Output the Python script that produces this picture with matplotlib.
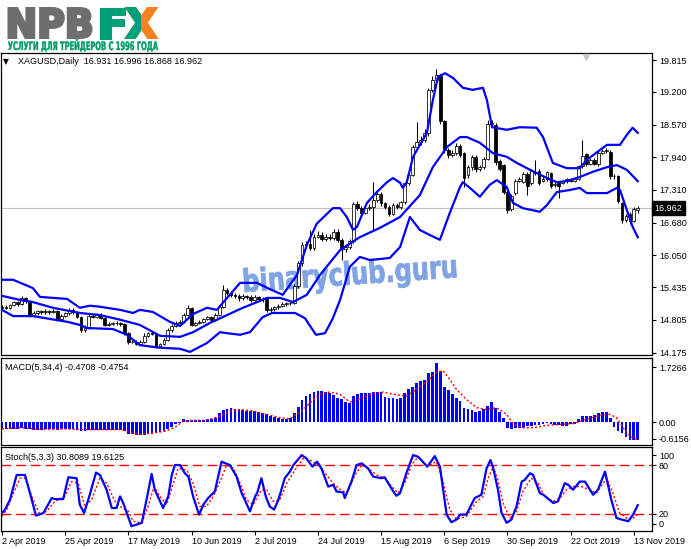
import matplotlib
matplotlib.use("Agg")
import matplotlib.pyplot as plt
from matplotlib.font_manager import FontProperties
from matplotlib.patches import PathPatch, Rectangle
from matplotlib.textpath import TextPath
from matplotlib.transforms import Affine2D, IdentityTransform, blended_transform_factory

W, H = 691, 549

# XAGUSD daily candles (bar 0 = 2 Apr 2019, last = 14 Nov 2019)
opens = [15.03, 15.06, 15.04, 15.09, 15.15, 15.11, 15.22, 15.17, 14.90, 14.93,
         14.97, 14.95, 14.98, 14.95, 14.97, 14.82, 14.89, 14.93, 15.00, 14.95,
         14.87, 14.61, 14.65, 14.89, 14.87, 14.90, 14.85, 14.71, 14.72, 14.74,
         14.74, 14.72, 14.55, 14.38, 14.39, 14.35, 14.38, 14.50, 14.55, 14.54,
         14.30, 14.34, 14.42, 14.61, 14.68, 14.74, 14.77, 14.90, 15.03, 14.71,
         14.74, 14.77, 14.82, 14.86, 14.81, 14.90, 15.06, 15.38, 15.32, 15.29,
         15.26, 15.22, 15.26, 15.24, 15.19, 15.24, 15.21, 15.20, 14.99, 15.01,
         15.05, 15.08, 15.11, 15.13, 15.14, 15.46, 15.90, 16.25, 16.27, 16.19,
         16.41, 16.44, 16.36, 16.40, 16.38, 16.51, 16.35, 16.17, 16.22, 16.32,
         17.04, 16.96, 16.87, 16.96, 16.99, 17.12, 17.23, 17.05, 16.99, 16.85,
         17.02, 16.99, 17.07, 17.44, 17.60, 18.13, 18.24, 18.27, 18.40, 19.24,
         19.43, 19.50, 18.63, 18.08, 17.99, 18.02, 18.16, 18.02, 17.60, 17.75,
         17.94, 17.71, 17.75, 17.90, 18.58, 18.56, 17.86, 17.79, 17.28, 16.94,
         17.25, 17.49, 17.47, 17.62, 17.44, 17.66, 17.68, 17.49, 17.52, 17.63,
         17.41, 17.44, 17.45, 17.48, 17.52, 17.49, 17.52, 17.77, 18.00, 17.82,
         17.89, 17.81, 18.03, 18.06, 18.05, 17.57, 17.58, 17.05, 16.73, 16.85,
         16.72, 16.931]
closes = [15.06, 15.04, 15.09, 15.15, 15.11, 15.22, 15.17, 14.90, 14.93, 14.97,
          14.95, 14.98, 14.95, 14.97, 14.82, 14.89, 14.93, 15.00, 14.95, 14.87,
          14.61, 14.65, 14.89, 14.87, 14.90, 14.85, 14.71, 14.72, 14.74, 14.74,
          14.72, 14.55, 14.38, 14.39, 14.35, 14.38, 14.50, 14.55, 14.54, 14.30,
          14.34, 14.42, 14.61, 14.68, 14.74, 14.77, 14.90, 15.03, 14.71, 14.74,
          14.77, 14.82, 14.86, 14.81, 14.90, 15.06, 15.38, 15.32, 15.29, 15.26,
          15.22, 15.26, 15.24, 15.19, 15.24, 15.21, 15.20, 14.99, 15.01, 15.05,
          15.08, 15.11, 15.13, 15.14, 15.46, 15.90, 16.25, 16.27, 16.19, 16.41,
          16.44, 16.36, 16.40, 16.38, 16.51, 16.35, 16.17, 16.22, 16.32, 17.04,
          16.96, 16.87, 16.96, 16.99, 17.12, 17.23, 17.05, 16.99, 16.85, 17.02,
          16.99, 17.07, 17.44, 17.60, 18.13, 18.24, 18.27, 18.40, 19.24, 19.43,
          19.53, 18.63, 18.08, 17.99, 18.02, 18.16, 17.99, 17.54, 17.75, 17.94,
          17.71, 17.75, 17.90, 18.58, 18.61, 17.84, 17.71, 17.28, 16.93, 17.20,
          17.49, 17.52, 17.62, 17.39, 17.68, 17.63, 17.44, 17.53, 17.65, 17.39,
          17.43, 17.38, 17.48, 17.52, 17.49, 17.53, 17.77, 17.97, 17.81, 17.89,
          17.82, 18.03, 18.07, 18.08, 17.57, 17.58, 17.09, 16.73, 16.80, 16.72,
          16.94, 16.962]
highs = [15.10, 15.09, 15.12, 15.18, 15.17, 15.27, 15.25, 15.19, 14.97, 15.00,
         15.00, 15.02, 15.00, 15.01, 14.99, 14.92, 14.96, 15.03, 15.03, 14.97,
         14.89, 14.70, 14.92, 14.92, 14.93, 14.93, 14.87, 14.76, 14.77, 14.78,
         14.76, 14.74, 14.57, 14.42, 14.42, 14.41, 14.55, 14.58, 14.58, 14.56,
         14.37, 14.45, 14.65, 14.72, 14.78, 14.80, 14.94, 15.09, 15.05, 14.77,
         14.80, 14.85, 14.89, 14.88, 14.93, 15.09, 15.48, 15.42, 15.36, 15.33,
         15.30, 15.30, 15.29, 15.28, 15.28, 15.27, 15.25, 15.23, 15.05, 15.08,
         15.11, 15.15, 15.16, 15.18, 15.50, 15.95, 16.31, 16.32, 16.54, 16.46,
         16.52, 16.50, 16.46, 16.47, 16.56, 16.55, 16.38, 16.26, 16.36, 17.08,
         17.10, 17.00, 17.00, 17.04, 17.47, 17.28, 17.27, 17.08, 17.03, 17.06,
         17.06, 17.10, 17.47, 17.65, 18.18, 18.62, 18.35, 18.48, 19.28, 19.50,
         19.65, 19.55, 18.66, 18.12, 18.08, 18.22, 18.20, 18.05, 17.80, 17.98,
         17.98, 17.80, 17.95, 18.66, 18.65, 18.60, 17.90, 17.82, 17.31, 17.24,
         17.52, 17.56, 17.66, 17.66, 17.72, 17.89, 17.71, 17.56, 17.68, 17.66,
         17.46, 17.47, 17.50, 17.55, 17.55, 17.56, 17.80, 18.27, 18.02, 17.93,
         17.92, 18.06, 18.10, 18.12, 18.08, 17.62, 17.60, 17.07, 16.84, 16.88,
         16.98, 16.996]
lows = [15.00, 15.01, 15.02, 15.07, 15.08, 15.09, 15.13, 14.87, 14.87, 14.90,
        14.92, 14.92, 14.92, 14.93, 14.78, 14.80, 14.87, 14.91, 14.92, 14.84,
        14.57, 14.58, 14.63, 14.84, 14.85, 14.82, 14.68, 14.69, 14.70, 14.71,
        14.69, 14.52, 14.35, 14.36, 14.33, 14.33, 14.36, 14.47, 14.51, 14.27,
        14.28, 14.32, 14.40, 14.58, 14.66, 14.72, 14.75, 14.88, 14.68, 14.68,
        14.72, 14.75, 14.80, 14.78, 14.79, 14.88, 15.04, 15.28, 15.25, 15.22,
        15.18, 15.19, 15.20, 15.16, 15.17, 15.18, 15.16, 14.95, 14.96, 14.98,
        15.02, 15.05, 15.08, 15.10, 15.11, 15.42, 15.85, 16.20, 16.15, 16.15,
        16.38, 16.32, 16.33, 16.34, 16.35, 16.30, 15.96, 16.12, 16.18, 16.28,
        16.92, 16.82, 16.84, 16.92, 16.54, 17.08, 17.00, 16.95, 16.80, 16.82,
        16.95, 16.95, 17.04, 17.40, 17.58, 18.10, 18.18, 18.24, 18.36, 19.20,
        19.40, 18.58, 18.02, 17.92, 17.94, 17.98, 17.95, 17.37, 17.55, 17.70,
        17.66, 17.68, 17.71, 17.88, 18.54, 17.80, 17.68, 17.24, 16.87, 16.90,
        17.22, 17.46, 17.44, 17.21, 17.40, 17.60, 17.40, 17.46, 17.49, 17.35,
        17.37, 17.15, 17.42, 17.45, 17.46, 17.46, 17.50, 17.74, 17.78, 17.79,
        17.79, 17.78, 18.00, 18.02, 17.52, 17.52, 17.05, 16.68, 16.69, 16.66,
        16.70, 16.868]

# Bollinger bands (bar position, price)
bb_up_x = [0, 2.8, 7.8, 9.6, 16.5, 19.7, 22.3, 24.8, 29.9, 33.2, 34.9, 38.2, 42.5, 45.1,
           48.4, 51.9, 54.4, 57.0, 60.3, 64.6, 67.8, 71.1, 74.7, 77.2, 79.7, 83.8, 85.6,
           87.3, 88.9, 89.9, 92.4, 94.9, 97.5, 99.0, 100.8, 101.5, 102.5, 104.1, 107.6,
           109.1, 110.4, 112.2, 114.2, 116.7, 119.2, 121.8, 122.8, 124.1, 127.8, 131.1,
           135.4, 137.0, 139.5, 143.0, 146.3, 148.1, 151.4, 153.2, 156.5, 158.2, 159.7, 161]
bb_up = [15.58, 15.58, 15.42, 15.25, 15.21, 15.04, 15.08, 15.06, 15.00, 14.94, 15.00, 14.96,
         14.77, 14.69, 14.92, 15.04, 15.00, 15.23, 15.52, 15.52, 15.40, 15.29, 15.67, 16.25,
         16.66, 16.96, 16.96, 16.79, 16.54, 16.60, 17.06, 17.27, 17.46, 17.54, 17.45, 17.35,
         17.46, 17.95, 18.41, 19.04, 19.49, 19.56, 19.47, 19.28, 19.24, 19.28, 19.04, 18.52,
         18.47, 18.52, 18.51, 18.33, 17.83, 17.73, 17.73, 17.89, 18.08, 18.18, 18.18, 18.37,
         18.51, 18.41]
bb_mid_x = [0, 4.6, 7.8, 12.9, 19.7, 24.8, 29.9, 34.9, 40.0, 45.1, 48.4, 52.7, 57.0, 61.0,
            64.6, 67.1, 70.4, 73.7, 77.2, 80.5, 85.6, 90.6, 95.7, 100.8, 105.8, 109.1, 112.7,
            116.0, 117.7, 121.0, 124.3, 127.8, 130.4, 133.7, 138.0, 140.5, 143.0, 146.3,
            149.6, 153.2, 155.7, 158.2, 161]
bb_mid = [15.27, 15.19, 15.15, 15.04, 14.94, 14.90, 14.81, 14.71, 14.50, 14.48, 14.57, 14.75,
          14.90, 15.04, 15.15, 15.23, 15.23, 15.15, 15.29, 15.67, 16.15, 16.40, 16.58, 16.79,
          17.21, 17.75, 18.14, 18.33, 18.33, 18.22, 18.02, 17.95, 17.83, 17.70, 17.54, 17.46,
          17.48, 17.56, 17.66, 17.75, 17.79, 17.70, 17.48]
bb_lo_x = [0, 2.8, 7.8, 16.5, 19.7, 21.5, 28.1, 31.6, 34.9, 40.0, 45.1, 47.6, 51.9, 55.2,
           57.0, 60.3, 62.8, 66.0, 68.4, 74.2, 76.7, 79.5, 81.8, 83.8, 85.6, 88.1, 90.6, 93.2,
           98.2, 100.8, 103.3, 105.8, 108.4, 110.9, 113.4, 116.0, 116.7, 118.5, 121.0, 123.5,
           125.3, 127.8, 129.4, 131.9, 136.2, 138.0, 140.5, 143.8, 146.3, 148.1, 153.2, 155.7,
           156.5, 158.2, 159.7, 161]
bb_lo = [15.00, 14.88, 14.88, 14.77, 14.71, 14.65, 14.63, 14.52, 14.32, 14.27, 14.25, 14.19,
         14.36, 14.57, 14.55, 14.52, 14.57, 14.86, 14.94, 14.94, 14.84, 14.52, 14.55, 14.84,
         15.19, 15.83, 16.02, 15.96, 16.00, 16.21, 16.79, 16.54, 16.44, 16.35, 16.87, 17.37,
         17.46, 17.35, 17.18, 17.41, 17.50, 17.37, 17.06, 16.96, 16.89, 17.02, 17.27, 17.31,
         17.35, 17.25, 17.25, 17.35, 17.31, 16.93, 16.60, 16.40]

# MACD(5,34,4): histogram per bar and signal line
macd_hist = [-0.198, -0.18, -0.18, -0.198, -0.18, -0.171, -0.18, -0.198, -0.216, -0.207,
             -0.207, -0.198, -0.198, -0.198, -0.207, -0.198, -0.189, -0.198, -0.198, -0.207,
             -0.252, -0.234, -0.216, -0.207, -0.207, -0.216, -0.216, -0.207, -0.207, -0.216,
             -0.216, -0.243, -0.306, -0.324, -0.342, -0.342, -0.333, -0.324, -0.306, -0.288,
             -0.27, -0.243, -0.18, -0.126, -0.063, -0.018, 0.09, 0.054, 0.054, 0.063,
             0.054, 0.063, 0.072, 0.072, 0.117, 0.252, 0.324, 0.36, 0.378, 0.36,
             0.342, 0.315, 0.297, 0.288, 0.288, 0.27, 0.252, 0.207, 0.162, 0.135,
             0.108, 0.09, 0.09, 0.108, 0.234, 0.414, 0.594, 0.702, 0.765, 0.81,
             0.828, 0.828, 0.81, 0.774, 0.72, 0.657, 0.612, 0.54, 0.522, 0.702,
             0.747, 0.774, 0.783, 0.792, 0.801, 0.81, 0.819, 0.675, 0.657, 0.648,
             0.63, 0.657, 0.774, 0.9, 0.954, 1.062, 1.107, 1.134, 1.332, 1.35,
             1.602, 1.377, 0.954, 0.864, 0.747, 0.657, 0.567, 0.387, 0.342, 0.324,
             0.27, 0.297, 0.36, 0.432, 0.54, 0.387, 0.27, 0.117, -0.153, -0.198,
             -0.171, -0.171, -0.153, -0.108, -0.099, -0.09, -0.09, -0.045, -0.036, -0.054,
             -0.09, -0.09, -0.108, -0.099, -0.063, -0.063, 0.072, 0.162, 0.162, 0.162,
             0.18, 0.252, 0.27, 0.27, 0.117, -0.126, -0.243, -0.288, -0.396, -0.486,
             -0.468, -0.4708]
macd_sig_x = [0, 4.6, 9.6, 16.4, 19.7, 24.8, 29.9, 33.2, 34.9, 38.3, 41.7, 44.2, 45.9, 48.4,
              51.8, 55.2, 57.7, 60.3, 63.6, 67.0, 70.4, 72.9, 74.6, 76.3, 78.0, 80.5, 83.0,
              85.6, 88.1, 90.6, 94.0, 96.5, 99.1, 102.4, 105.0, 107.5, 110.0, 111.7, 113.4,
              115.1, 117.6, 120.2, 122.7, 125.2, 127.8, 129.5, 132.0, 134.5, 137.9, 141.3,
              144.7, 148.0, 151.4, 153.9, 155.6, 157.3, 159.0, 161]
macd_sig = [-0.18, -0.15, -0.20, -0.18, -0.20, -0.20, -0.20, -0.29, -0.33, -0.29, -0.24, -0.11,
            0.03, 0.05, 0.05, 0.16, 0.30, 0.34, 0.30, 0.21, 0.12, 0.09, 0.21, 0.34, 0.52, 0.75,
            0.81, 0.75, 0.54, 0.63, 0.77, 0.81, 0.75, 0.70, 0.88, 1.08, 1.35, 1.38, 1.15, 0.88,
            0.61, 0.39, 0.34, 0.39, 0.21, -0.06, -0.15, -0.15, -0.09, -0.06, -0.04, 0.07, 0.18,
            0.21, 0.12, -0.15, -0.38, -0.4754]

# Stochastic(5,3,3): main (blue) and signal (red)
stoch_x = [0, 0.76, 2.03, 3.71, 5.82, 7.09, 8.6, 10.5, 12.6, 13.4, 15.5, 16.8, 18.9, 19.7,
           20.8, 22.1, 23.8, 24.8, 26.5, 27.8, 29.0, 29.9, 30.7, 31.6, 32.8, 34.1, 35.4,
           36.6, 37.9, 38.7, 40.8, 42.1, 43.0, 43.8, 45.1, 46.3, 47.2, 48.4, 49.9, 51.0,
           52.2, 53.9, 55.6, 57.7, 59.4, 60.7, 62.8, 64.1, 64.6, 65.7, 66.8, 67.8, 68.9,
           70.0, 71.6, 72.9, 73.8, 75.9, 77.1, 78.6, 79.8, 80.9, 82.6, 83.9, 84.7, 86.4,
           86.8, 88.5, 89.8, 91.1, 92.7, 94.0, 96.1, 96.9, 97.8, 99.1, 99.9, 100.8, 102.4,
           104.1, 105.4, 107.7, 109.6, 110.9, 112.6, 113.8, 115.1, 116.0, 117.6, 119.7,
           121.4, 122.7, 123.7, 124.4, 125.6, 126.5, 127.8, 129.0, 130.3, 131.6, 132.4,
           133.7, 134.5, 136.2, 137.1, 139.6, 140.8, 142.5, 143.4, 144.6, 146.3, 147.6,
           149.7, 150.9, 152.7, 154.3, 155.6, 156.9, 158.6, 159.8, 161]
stoch_main = [21.2, 25.3, 37.4, 67.8, 67.8, 45.5, 18.0, 21.2, 39.5, 38.2, 38.2, 65.0, 63.8,
              31.4, 21.2, 41.5, 70.7, 67.8, 49.6, 27.3, 27.3, 41.5, 33.4, 21.2, 5.0, 7.0,
              9.1, 37.4, 69.1, 49.6, 27.3, 41.5, 67.8, 80.0, 80.0, 69.9, 65.8, 41.5, 19.2,
              31.4, 39.5, 47.6, 84.1, 80.0, 65.8, 45.5, 23.2, 41.5, 45.5, 63.8, 41.5, 29.3,
              25.3, 37.4, 63.8, 71.9, 80.0, 92.2, 88.1, 78.0, 84.1, 75.9, 53.6, 55.7, 47.6,
              46.4, 39.5, 59.7, 80.0, 82.0, 75.9, 65.8, 63.8, 65.0, 57.7, 47.6, 42.3, 45.5,
              69.9, 92.2, 90.1, 78.0, 90.9, 78.0, 19.2, 9.9, 13.1, 19.2, 19.2, 39.5, 43.5,
              75.9, 86.1, 75.9, 49.6, 21.2, 9.1, 13.1, 29.3, 59.7, 61.8, 69.9, 67.8, 45.5,
              43.5, 33.4, 35.4, 57.7, 55.7, 49.6, 59.7, 59.7, 43.5, 49.6, 71.9, 37.4, 15.1,
              13.1, 11.1, 19.2, 30.8]
stoch_sig_x = [0, 1.2, 2.9, 4.6, 5.8, 7.9, 9.6, 11.3, 13.4, 15.9, 17.6, 19.3, 21.0, 22.7,
               24.8, 26.5, 28.6, 29.9, 32.0, 33.2, 35.4, 37.0, 38.5, 40.0, 41.7, 43.4, 44.6,
               46.8, 48.4, 50.1, 51.8, 53.5, 55.2, 56.9, 58.6, 60.3, 61.9, 63.6, 65.7, 67.0,
               68.7, 70.4, 72.1, 74.2, 76.3, 78.0, 80.1, 81.8, 83.9, 85.2, 87.3, 89.4, 91.1,
               93.2, 94.9, 97.0, 98.7, 100.3, 102.0, 103.7, 105.4, 107.5, 110.0, 111.7, 113.4,
               115.1, 117.6, 120.2, 121.9, 123.1, 124.4, 125.6, 126.9, 128.6, 130.3, 131.9,
               134.0, 135.7, 137.4, 139.6, 141.3, 142.9, 144.6, 146.7, 148.9, 150.5, 153.1,
               154.7, 156.4, 158.1, 159.3, 161]
stoch_sig = [17.2, 25.3, 45.5, 63.8, 63.8, 37.4, 19.2, 23.2, 35.4, 41.5, 59.7, 57.7, 29.3,
             37.4, 63.8, 57.7, 35.4, 29.3, 23.2, 11.1, 9.1, 29.3, 53.6, 41.5, 31.4, 57.7,
             75.9, 73.9, 57.7, 29.3, 29.3, 41.5, 59.7, 80.0, 75.9, 57.7, 37.4, 31.4, 49.6,
             49.6, 35.4, 37.4, 57.7, 73.9, 88.1, 86.1, 80.0, 69.9, 57.7, 51.6, 45.5, 67.8,
             80.0, 73.9, 67.8, 63.8, 53.6, 45.5, 57.7, 80.0, 90.1, 78.0, 84.1, 59.7, 25.3,
             13.1, 17.2, 35.4, 41.5, 63.8, 78.0, 61.8, 33.4, 15.1, 23.2, 47.6, 63.8, 57.7,
             41.5, 35.4, 39.5, 49.6, 53.6, 53.6, 49.6, 45.5, 63.8, 45.5, 21.2, 15.1, 13.1,
             19.6]

date_labels = ["2 Apr 2019", "25 Apr 2019", "17 May 2019", "10 Jun 2019", "2 Jul 2019",
               "24 Jul 2019", "15 Aug 2019", "6 Sep 2019", "30 Sep 2019", "22 Oct 2019",
               "13 Nov 2019"]
date_bars = [0, 16, 32, 48, 64, 80, 96, 112, 128, 144, 160]
price_ticks = [19.815, 19.200, 18.570, 17.940, 17.310, 16.680, 16.050, 15.435, 14.805, 14.175]
last_price = 16.962

BLUE = "#0000ff"
RED = "#ff0000"

plt.rcParams['font.family'] = ['Liberation Sans', 'DejaVu Sans']
fig = plt.figure(figsize=(W / 100, H / 100), dpi=100)
fig.patch.set_facecolor('white')


def rect(l, t, r, b):
    return [l / W, 1 - b / H, (r - l) / W, (b - t) / H]


def path_text(s, x0, base, width, cap, color, family='DejaVu Sans', rot=0.0,
              target=None, zorder=5, clip=None, stroke=0.0):
    # text drawn as a path so its ink box can be fitted to the logo size
    prop = FontProperties(family=family, weight='bold')
    tp = TextPath((0, 0), s, size=100, prop=prop)
    ref = TextPath((0, 0), 'H', size=100, prop=prop).get_extents()
    bb = tp.get_extents()
    tr = (Affine2D().translate(-bb.x0, 0).scale(width / bb.width, cap / ref.height)
          .rotate_deg(rot).translate(x0, H - base))
    p = PathPatch(tp, transform=tr, facecolor=color,
                  edgecolor=color if stroke > 0 else 'none', lw=stroke, zorder=zorder)
    if target is None:
        fig.add_artist(p)
    else:
        target.add_artist(p)
    if clip is not None:
        p.set_clip_path(clip)
    return p


ax = fig.add_axes(rect(1, 53, 652, 355))
ax_m = fig.add_axes(rect(1, 358, 652, 445))
ax_s = fig.add_axes(rect(1, 447, 652, 531))

for a in (ax, ax_m, ax_s):
    a.set_xlim(-0.25, 164.6)
    for sp in a.spines.values():
        sp.set_linewidth(0.9)
        sp.set_color('black')
    a.yaxis.tick_right()
    a.tick_params(axis='y', direction='out', length=3, width=0.8, pad=2,
                  labelsize=6.5, colors='black')
    a.set_xticks([])

# ---- price panel ----
bars = list(range(len(closes)))
ax.set_ylim(14.13, 19.95)
ax.set_yticks(price_ticks)
ax.set_yticklabels(["%.3f" % v for v in price_ticks])
ax.axhline(last_price, color='#c0c0c0', lw=0.8, zorder=1)

ax.vlines(bars, lows, highs, color='black', lw=0.75, zorder=2)
body_bottom = [min(o, c) for o, c in zip(opens, closes)]
body_h = [max(abs(c - o), 0.008) for o, c in zip(opens, closes)]
faces = ['white' if c >= o else 'black' for o, c in zip(opens, closes)]
ax.bar(bars, body_h, bottom=body_bottom, width=0.7, color=faces,
       edgecolor='black', linewidth=0.55, zorder=2.5)

ax.plot(bb_up_x, bb_up, color=BLUE, lw=1.6, zorder=3)
ax.plot(bb_mid_x, bb_mid, color=BLUE, lw=1.6, zorder=3)
ax.plot(bb_lo_x, bb_lo, color=BLUE, lw=1.6, zorder=3)

ax.plot([147.8], [19.87], marker='v', color='#c8c8c8', ms=5, zorder=4, clip_on=False)

trans = blended_transform_factory(ax.transAxes, ax.transData)
ax.text(1.004, last_price, "16.962", transform=trans, ha='left', va='center',
        fontsize=6.5, color='white', zorder=6, clip_on=False,
        bbox=dict(boxstyle='square,pad=0.3', fc='black', ec='black'))

# watermark behind the bands
path_text("binaryclub.guru", 245, 292, 212, 23, '#80a4e3', rot=4, target=ax,
          zorder=1, stroke=0.6)

fig.text(3 / W, 1 - 62 / H, "\u25BC", fontsize=5.5, va='center', ha='left',
         family=['DejaVu Sans'])
fig.text(18 / W, 1 - 62 / H, "XAGUSD,Daily  16.931 16.996 16.868 16.962",
         fontsize=6.5, va='center', ha='left')

# ---- MACD panel ----
ax_m.set_ylim(-0.6156, 1.7266)
ax_m.set_yticks([1.484, 0.0, -0.454])
ax_m.set_yticklabels(["1.7266", "0.00", "-0.6156"])
ax_m.bar(bars, macd_hist, width=0.7, color=BLUE, zorder=2)
ax_m.plot(macd_sig_x, macd_sig, color=RED, lw=1.0, ls=(0, (1.5, 1.5)), zorder=3)
fig.text(5 / W, 1 - 367 / H, "MACD(5,34,4) -0.4708 -0.4754", fontsize=6.5,
         va='center', ha='left')

# ---- Stochastic panel ----
ax_s.set_ylim(-0.9, 102.1)
ax_s.set_yticks([92.2, 80, 20, 7.7])
ax_s.set_yticklabels(["100", "80", "20", "0"])
ax_s.axhline(80, color=RED, lw=1.0, ls=(0, (7, 3.6)), zorder=1)
ax_s.axhline(20, color=RED, lw=1.0, ls=(0, (7, 3.6)), zorder=1)
ax_s.plot(stoch_sig_x, stoch_sig, color=RED, lw=1.0, ls=(0, (1.5, 1.5)), zorder=2)
ax_s.plot(stoch_x, stoch_main, color=BLUE, lw=1.6, zorder=3)
fig.text(5 / W, 1 - 457 / H, "Stoch(5,3,3) 30.8089 19.6125", fontsize=6.5,
         va='center', ha='left')

ax_s.set_xticks(date_bars)
ax_s.set_xticklabels(date_labels, ha='left')
ax_s.tick_params(axis='x', direction='out', length=3, width=0.8, pad=1.5,
                 labelsize=6.5, colors='black')

# ---- NPBFX logo ----
GRAY = "#6d6e70"
GREEN = "#00a07a"
ORANGE = "#f5821f"
path_text("NPB", 9, 37.5, 82, 29, GRAY, stroke=2.2)
path_text("F", 101, 37.5, 23, 29, GREEN, stroke=2.2)
path_text("X", 127, 37.5, 29, 29, ORANGE, stroke=2.2)
clip = Rectangle((124, H - 41), 17, 38, transform=IdentityTransform())
path_text("X", 127, 37.5, 29, 29, GREEN, clip=clip, zorder=6, stroke=2.2)
path_text("УСЛУГИ ДЛЯ ТРЕЙДЕРОВ С 1996 ГОДА", 8, 50, 150, 8.5, "#009a66", stroke=0.3)

fig.savefig("out.png", dpi=100)
